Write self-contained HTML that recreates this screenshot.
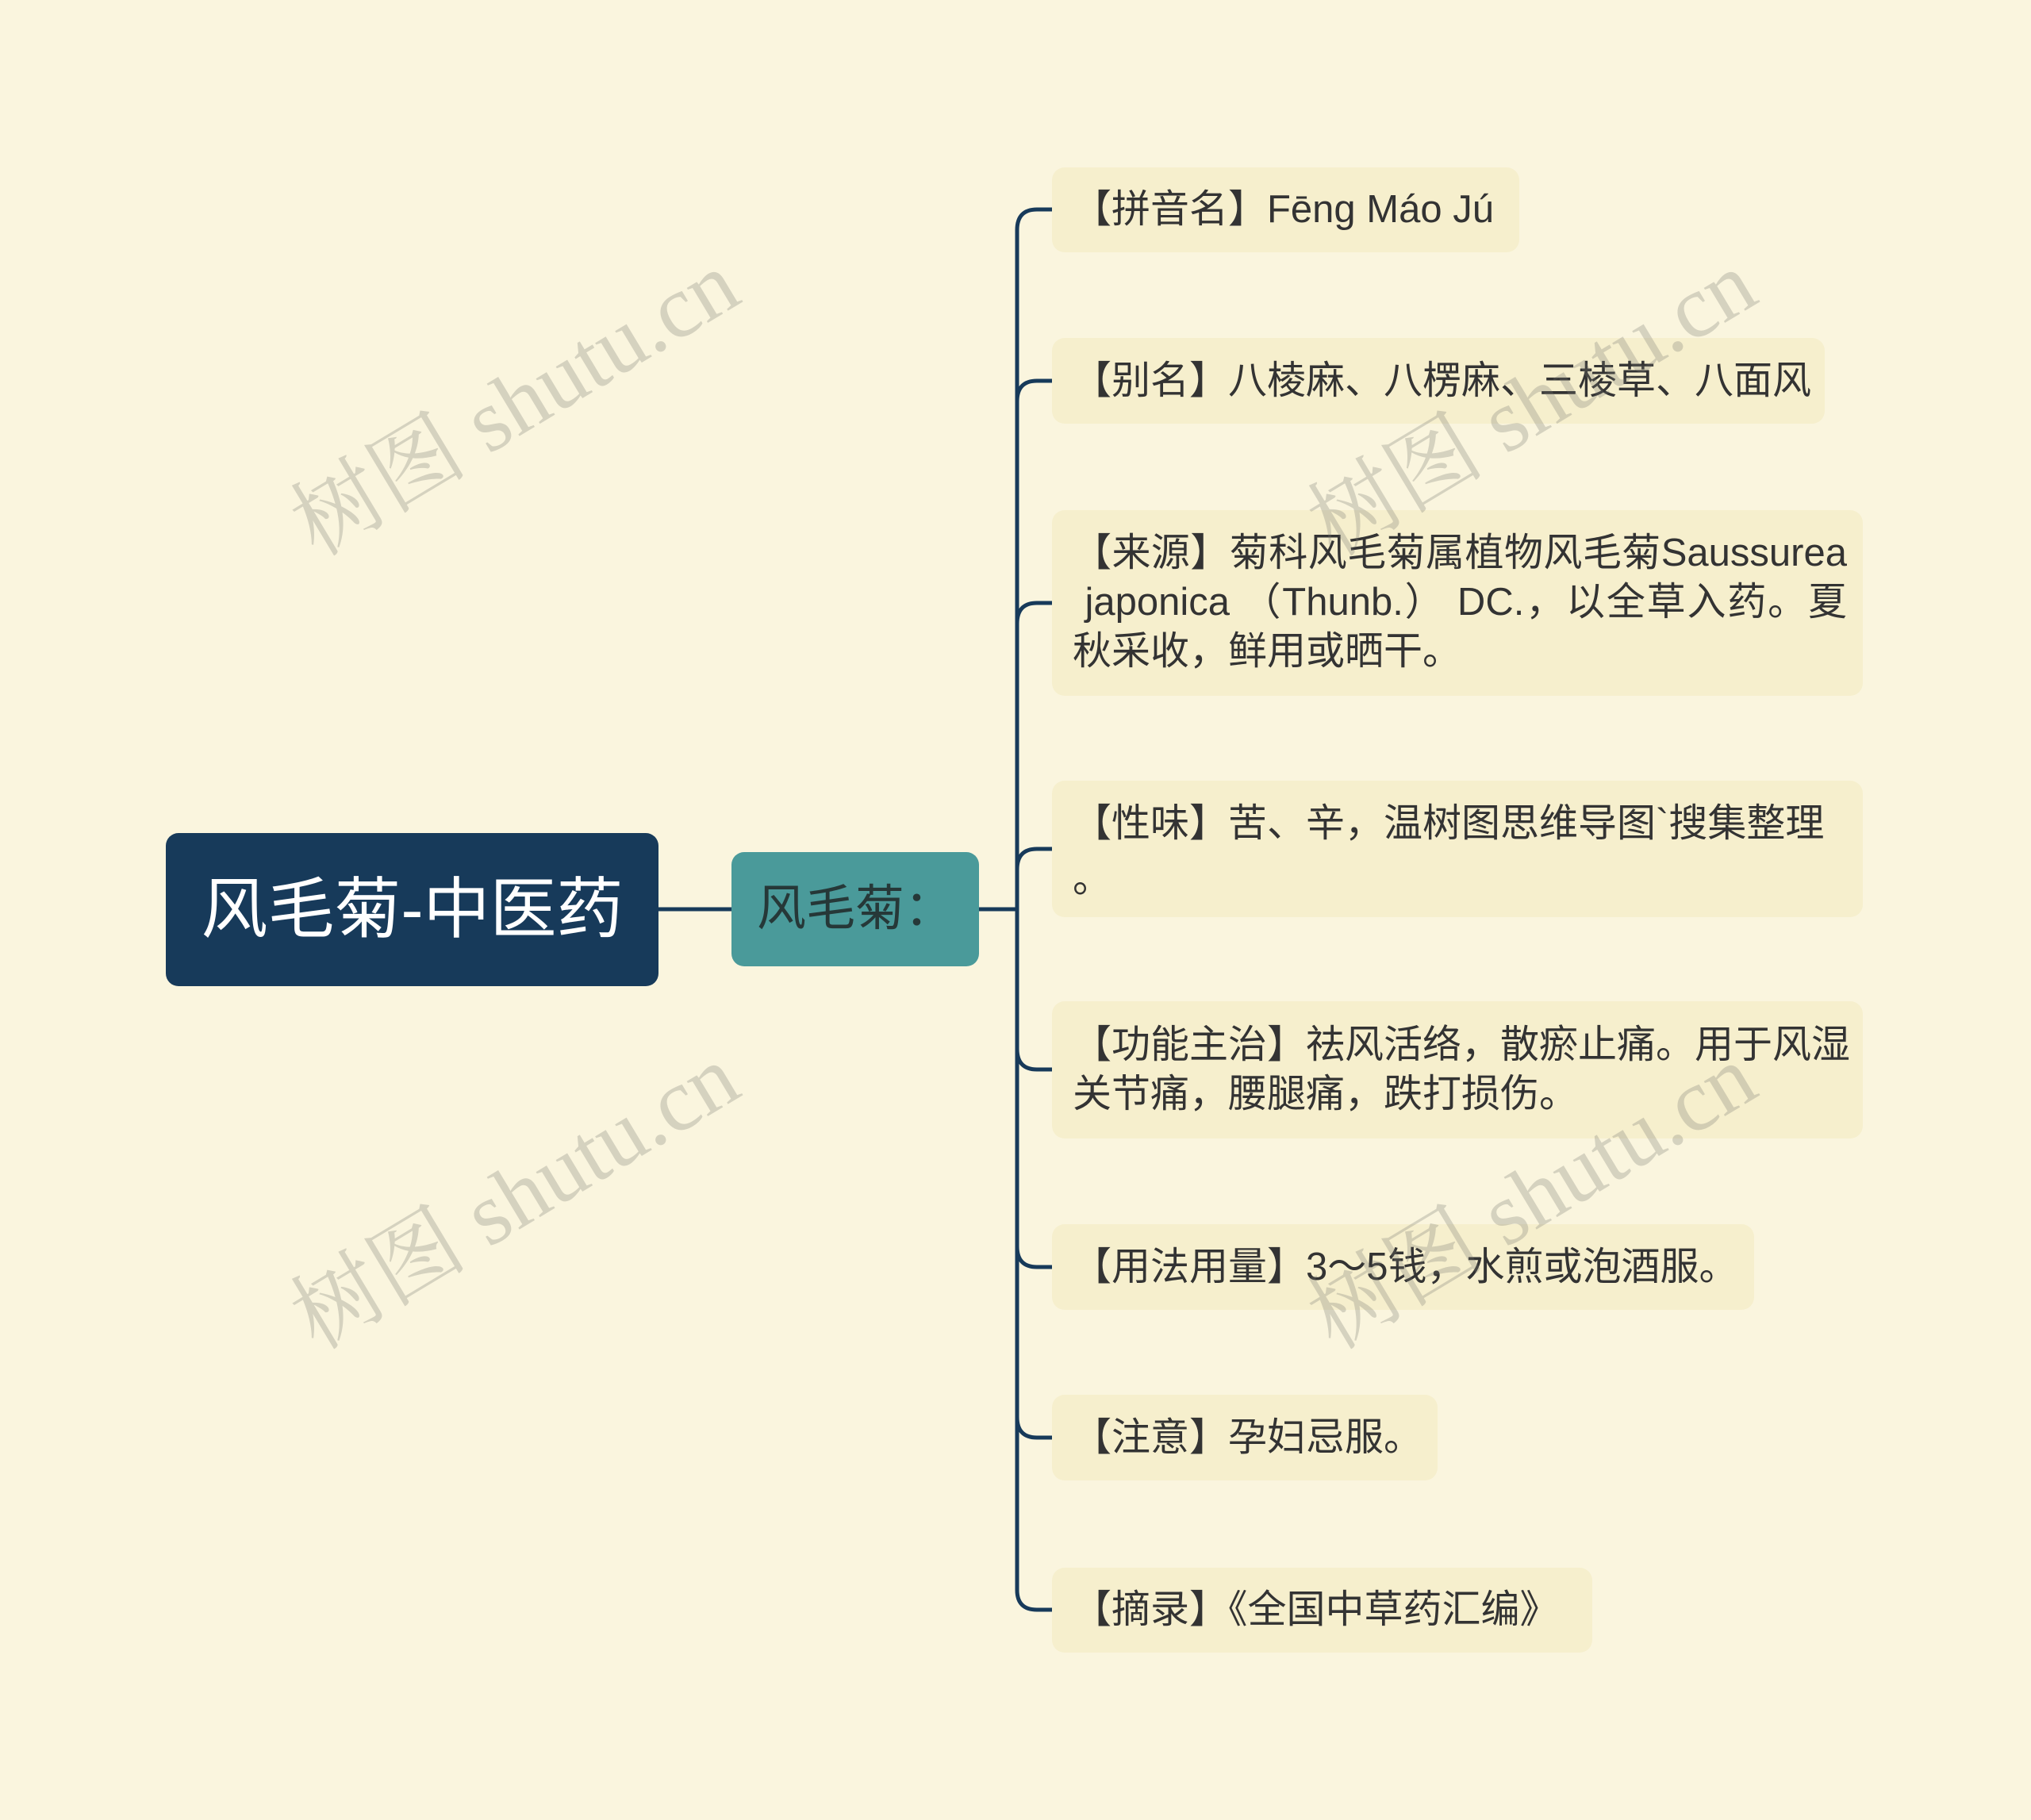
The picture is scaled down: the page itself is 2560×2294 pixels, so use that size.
<!DOCTYPE html>
<html><head><meta charset="utf-8">
<style>
html,body{margin:0;padding:0}
body{width:2560px;height:2294px;background:#faf5de;position:relative;overflow:hidden;font-family:"Liberation Sans","Noto Sans CJK SC",sans-serif}
.n{position:absolute;box-sizing:border-box;border-radius:16px}
.c{background:#f6efcd;color:#333;font-size:49px;padding-left:26px;padding-right:20px}
.c div{height:62px;line-height:62px;white-space:nowrap}
.j{text-align:justify;text-align-last:justify}
.wm{position:absolute;font-family:"Liberation Serif","Noto Serif CJK SC",serif;font-size:112px;color:rgba(120,120,110,0.28);transform:rotate(-31deg);white-space:nowrap;transform-origin:center}
</style></head><body>
<svg width="2560" height="2294" style="position:absolute;left:0;top:0">
<g fill="none" stroke="#173a5a" stroke-width="5">
<line x1="829" y1="1146" x2="922" y2="1146"/>
<line x1="1234" y1="1146" x2="1282" y2="1146"/>
<path d="M1326,264 L1307,264 Q1282,264 1282,290 L1282,2004 Q1282,2029 1307,2029 L1326,2029"/>
<path d="M1326,480 L1307,480 Q1282,480 1282,506"/>
<path d="M1326,760 L1307,760 Q1282,760 1282,786"/>
<path d="M1326,1070 L1307,1070 Q1282,1070 1282,1096"/>
<path d="M1326,1348 L1307,1348 Q1282,1348 1282,1322"/>
<path d="M1326,1597 L1307,1597 Q1282,1597 1282,1571"/>
<path d="M1326,1812 L1307,1812 Q1282,1812 1282,1786"/>
</g>
</svg>
<div class="n" style="left:209px;top:1050px;width:621px;height:193px;background:#173a5a;color:#fff;font-size:84px;line-height:193px;text-align:center">风毛菊-中医药</div>
<div class="n" style="left:922px;top:1074px;width:312px;height:144px;background:#4a9a9a;color:#263838;font-size:62px;line-height:144px;padding-left:32px">风毛菊：</div>

<div class="n c" style="left:1326px;top:211px;width:589px;height:107px;padding-top:22px"><div>【拼音名】Fēng Máo Jú</div></div>
<div class="n c" style="left:1326px;top:426px;width:974px;height:108px;padding-top:23px"><div>【别名】八棱麻、八楞麻、三棱草、八面风</div></div>
<div class="n c" style="left:1326px;top:643px;width:1022px;height:234px;padding-top:23px"><div class="j">【来源】菊科风毛菊属植物风毛菊Saussurea</div><div class="j">&nbsp;japonica （Thunb.） DC.，以全草入药。夏</div><div>秋采收，鲜用或晒干。</div></div>
<div class="n c" style="left:1326px;top:984px;width:1022px;height:172px;padding-top:23px"><div>【性味】苦、辛，温树图思维导图`搜集整理</div><div style="line-height:78px">。</div></div>
<div class="n c" style="left:1326px;top:1262px;width:1022px;height:173px;padding-top:24px"><div class="j">【功能主治】祛风活络，散瘀止痛。用于风湿</div><div>关节痛，腰腿痛，跌打损伤。</div></div>
<div class="n c" style="left:1326px;top:1543px;width:885px;height:108px;padding-top:23px"><div>【用法用量】3～5钱，水煎或泡酒服。</div></div>
<div class="n c" style="left:1326px;top:1758px;width:486px;height:108px;padding-top:23px"><div>【注意】孕妇忌服。</div></div>
<div class="n c" style="left:1326px;top:1976px;width:681px;height:107px;padding-top:22px"><div>【摘录】《全国中草药汇编》</div></div>

<div class="wm" style="left:330px;top:420px">树图 shutu.cn</div>
<div class="wm" style="left:1612px;top:420px">树图 shutu.cn</div>
<div class="wm" style="left:330px;top:1420px">树图 shutu.cn</div>
<div class="wm" style="left:1612px;top:1420px">树图 shutu.cn</div>
</body></html>
